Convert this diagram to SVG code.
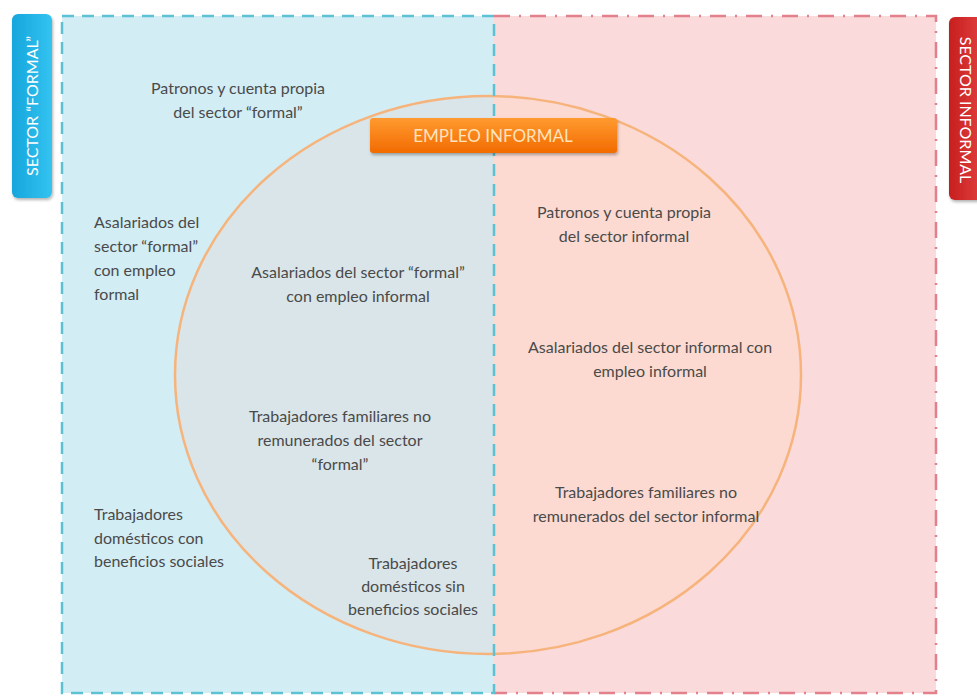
<svg xmlns="http://www.w3.org/2000/svg" width="977" height="696" viewBox="0 0 977 696">
<style>
.t{font-family:Lato,"Open Sans","Liberation Sans",sans-serif;font-size:16px;fill:#4a4a4a}
.m{text-anchor:middle}
.lab{font-family:Lato,"Liberation Sans",sans-serif;font-size:16px;fill:#ffffff;text-anchor:middle}
</style>
<defs>
<clipPath id="lc"><rect x="0" y="0" width="494" height="696"/></clipPath>
<clipPath id="rc"><rect x="494" y="0" width="483" height="696"/></clipPath>
<linearGradient id="og" x1="0" y1="0" x2="0" y2="1"><stop offset="0" stop-color="#ff9a30"/><stop offset="1" stop-color="#f26b00"/></linearGradient>
<linearGradient id="bg" x1="0" y1="0" x2="1" y2="0"><stop offset="0" stop-color="#16a6dc"/><stop offset="1" stop-color="#33c3f0"/></linearGradient>
<linearGradient id="rg" x1="0" y1="0" x2="1" y2="0"><stop offset="0" stop-color="#c81e1e"/><stop offset="1" stop-color="#e04040"/></linearGradient>
<filter id="sh" x="-10%" y="-30%" width="120%" height="160%"><feDropShadow dx="1" dy="2" stdDeviation="1.5" flood-color="#000" flood-opacity="0.3"/></filter>
</defs>
<rect width="977" height="696" fill="#ffffff"/>
<g id="sector-formal">
<rect x="62" y="16" width="432" height="677" fill="#d3edf5"/>
</g>
<g id="sector-informal">
<rect x="494" y="16" width="442" height="677" fill="#fadadb"/>
<path d="M494 16 H936 V693 H494" fill="none" stroke="#e2808c" stroke-width="2.5" stroke-dasharray="16 9 2 9"/>
</g>
<g id="empleo-informal-circle">
<ellipse cx="488" cy="375" rx="313" ry="279" fill="#d9e5e8" clip-path="url(#lc)"/>
<ellipse cx="488" cy="375" rx="313" ry="279" fill="#fcdad1" clip-path="url(#rc)"/>
<ellipse cx="488" cy="375" rx="313" ry="279" fill="none" stroke="#f6b47c" stroke-width="2.5"/>
</g>
<g id="formal-border">
<rect x="62" y="16" width="432" height="677" fill="none" stroke="#5cc1d2" stroke-width="2.5" stroke-dasharray="12 8"/>
</g>
<g id="label-formal">
<rect x="12" y="14" width="40" height="184" rx="6" fill="url(#bg)" filter="url(#sh)"/>
<text class="lab" transform="translate(38,106) rotate(-90)">SECTOR “FORMAL”</text>
</g>
<g id="label-informal">
<rect x="949" y="17" width="34" height="183" rx="6" fill="url(#rg)" filter="url(#sh)"/>
<text class="lab" transform="translate(960,110) rotate(90)">SECTOR INFORMAL</text>
</g>
<g id="empleo-informal">
<rect x="370" y="118" width="247" height="35" rx="3" fill="url(#og)" filter="url(#sh)"/>
<text x="493" y="142" text-anchor="middle" font-family="Lato,'Liberation Sans',sans-serif" font-size="17" fill="#ffe3bd">EMPLEO INFORMAL</text>
</g>
<g id="patronos-formal">
<text class="t m" x="238" y="94">Patronos y cuenta propia</text>
<text class="t m" x="238" y="118">del sector “formal”</text>
</g>
<g id="asalariados-formal-formal">
<text class="t" x="94" y="228">Asalariados del</text>
<text class="t" x="94" y="252">sector “formal”</text>
<text class="t" x="94" y="276">con empleo</text>
<text class="t" x="94" y="300">formal</text>
</g>
<g id="asalariados-formal-informal">
<text class="t m" x="358" y="278">Asalariados del sector “formal”</text>
<text class="t m" x="358" y="302">con empleo informal</text>
</g>
<g id="patronos-informal">
<text class="t m" x="624" y="218">Patronos y cuenta propia</text>
<text class="t m" x="624" y="242">del sector informal</text>
</g>
<g id="asalariados-informal">
<text class="t m" x="650" y="353">Asalariados del sector informal con</text>
<text class="t m" x="650" y="377">empleo informal</text>
</g>
<g id="familiares-formal">
<text class="t m" x="340" y="422">Trabajadores familiares no</text>
<text class="t m" x="340" y="446">remunerados del sector</text>
<text class="t m" x="340" y="470">“formal”</text>
</g>
<g id="familiares-informal">
<text class="t m" x="646" y="498">Trabajadores familiares no</text>
<text class="t m" x="646" y="522">remunerados del sector informal</text>
</g>
<g id="domesticos-con">
<text class="t" x="94" y="520">Trabajadores</text>
<text class="t" x="94" y="544">domésticos con</text>
<text class="t" x="94" y="567">beneficios sociales</text>
</g>
<g id="domesticos-sin">
<text class="t m" x="413" y="569">Trabajadores</text>
<text class="t m" x="413" y="592">domésticos sin</text>
<text class="t m" x="413" y="615">beneficios sociales</text>
</g>
<g id="connectors"/>
</svg>
